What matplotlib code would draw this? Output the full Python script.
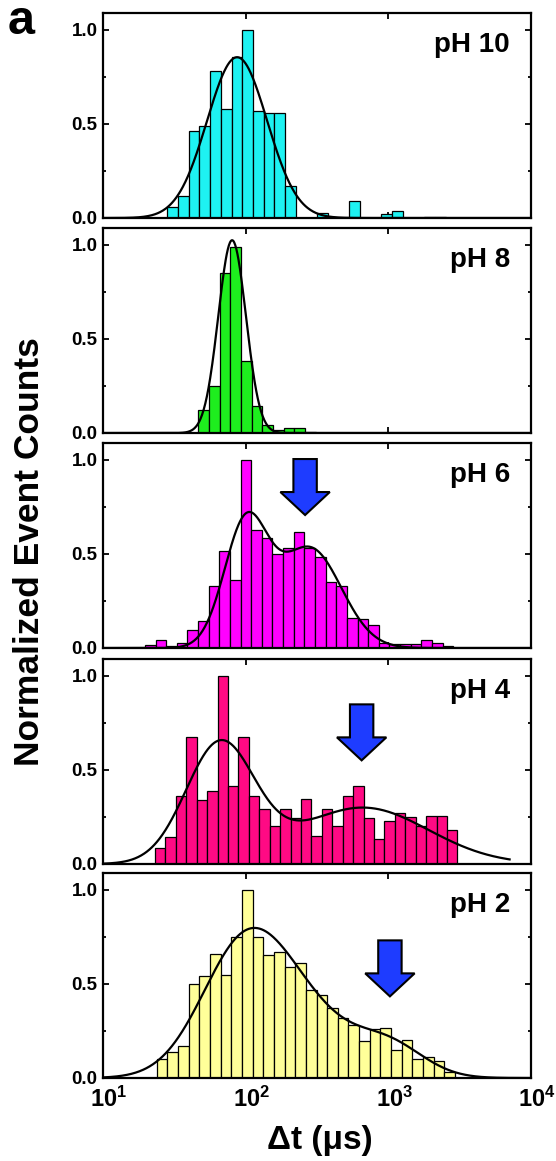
import numpy as np
import matplotlib
matplotlib.use('Agg')
import matplotlib.pyplot as plt
from matplotlib.patches import Polygon
from matplotlib.transforms import ScaledTranslation
from matplotlib.ticker import MultipleLocator, FixedLocator, FixedFormatter, NullLocator

plt.rcParams['font.family'] = ['Liberation Sans', 'DejaVu Sans']
plt.rcParams['font.weight'] = 'bold'
plt.rcParams['mathtext.fontset'] = 'custom'
plt.rcParams['mathtext.rm'] = 'Liberation Sans:bold'
plt.rcParams['mathtext.bf'] = 'Liberation Sans:bold'
plt.rcParams['mathtext.it'] = 'Liberation Sans:bold:italic'

# ---------------- data ----------------
panel_labels = ['pH 10', 'pH 8', 'pH 6', 'pH 4', 'pH 2']
bar_colors = ['#1EF2F2', '#1EEE1E', '#FF00FF', '#FF0A84', '#FFFF99']

# histogram bins: log10 of first left edge, log10 bin width
ph10_bin_start, ph10_bin_width = 1.451, 0.075
ph10_heights = [0.058, 0.115, 0.46, 0.49, 0.78, 0.58, 0.855, 1.0, 0.568, 0.557,
                0.56, 0.17, 0.0, 0.0, 0.027, 0.0, 0.0, 0.09, 0.0, 0.0,
                0.022, 0.035, 0.0, 0.0, 0.005, 0.005]

ph8_bin_start, ph8_bin_width = 1.668, 0.0748
ph8_heights = [0.122, 0.248, 0.85, 0.99, 0.385, 0.143, 0.04, 0.015, 0.025, 0.025, 0.007]

ph6_bin_start, ph6_bin_width = 1.294, 0.0745
ph6_heights = [0.014, 0.044, 0.01, 0.027, 0.094, 0.146, 0.332, 0.515, 0.36, 1.0,
               0.63, 0.583, 0.50, 0.533, 0.616, 0.533, 0.483, 0.35, 0.332, 0.16,
               0.152, 0.12, 0.027, 0.02, 0.02, 0.02, 0.044, 0.027, 0.01]

ph4_bin_start, ph4_bin_width = 1.364, 0.0731
ph4_heights = [0.084, 0.146, 0.363, 0.674, 0.342, 0.39, 1.0, 0.413, 0.674, 0.363,
               0.294, 0.20, 0.294, 0.244, 0.345, 0.151, 0.294, 0.203, 0.363, 0.413,
               0.244, 0.133, 0.226, 0.27, 0.25, 0.20, 0.253, 0.253, 0.18]

ph2_bin_start, ph2_bin_width = 1.376, 0.0747
ph2_heights = [0.10, 0.14, 0.17, 0.50, 0.54, 0.66, 0.55, 0.75, 1.0, 0.75,
               0.655, 0.67, 0.59, 0.61, 0.47, 0.44, 0.37, 0.32, 0.28, 0.195,
               0.26, 0.265, 0.15, 0.20, 0.10, 0.11, 0.09, 0.03]

# Gaussian fit components in log10(dt): amplitude, centre, sigma
ph10_fit_amp, ph10_fit_mu, ph10_fit_sigma = [0.855], [1.94], [0.21]
ph8_fit_amp, ph8_fit_mu, ph8_fit_sigma = [1.025], [1.905], [0.097]
ph6_fit_amp, ph6_fit_mu, ph6_fit_sigma = [0.65, 0.53], [2.0, 2.45], [0.152, 0.22]
ph4_fit_amp, ph4_fit_mu, ph4_fit_sigma = [0.63, 0.30], [1.82, 2.82], [0.24, 0.46]
ph2_fit_amp, ph2_fit_mu, ph2_fit_sigma = [0.65, 0.30, 0.17], [1.98, 2.40, 3.00], [0.30, 0.32, 0.25]
fit_log_range = [(1.0, 4.0), (1.0, 4.0), (1.0, 4.0), (1.0, 3.85), (1.0, 4.0)]

# arrows (tip position in data units); None = no arrow
arrow_tips = [None, None, (261, 0.707), (650, 0.551), (1026, 0.434)]

x_ticks = [10, 100, 1000, 10000]
x_tick_labels = [r'$\mathbf{10^{1}}$', r'$\mathbf{10^{2}}$', r'$\mathbf{10^{3}}$', r'$\mathbf{10^{4}}$']

panels = [
    (ph10_bin_start, ph10_bin_width, ph10_heights, ph10_fit_amp, ph10_fit_mu, ph10_fit_sigma),
    (ph8_bin_start, ph8_bin_width, ph8_heights, ph8_fit_amp, ph8_fit_mu, ph8_fit_sigma),
    (ph6_bin_start, ph6_bin_width, ph6_heights, ph6_fit_amp, ph6_fit_mu, ph6_fit_sigma),
    (ph4_bin_start, ph4_bin_width, ph4_heights, ph4_fit_amp, ph4_fit_mu, ph4_fit_sigma),
    (ph2_bin_start, ph2_bin_width, ph2_heights, ph2_fit_amp, ph2_fit_mu, ph2_fit_sigma),
]

# ---------------- figure ----------------
W, H = 556, 1161
fig = plt.figure(figsize=(W / 100, H / 100), dpi=100)

ax_left_px, ax_right_px = 103, 531
ax_h_px = 205
ax_tops = [13, 228, 443, 659, 873]

for i, (bstart, bwidth, heights, amps, mus, sigs) in enumerate(panels):
    top = ax_tops[i]
    ax = fig.add_axes([ax_left_px / W, 1 - (top + ax_h_px) / H,
                       (ax_right_px - ax_left_px) / W, ax_h_px / H])
    n = len(heights)
    edges = 10 ** (bstart + bwidth * np.arange(n + 1))
    ax.bar(edges[:-1], heights, width=np.diff(edges), align='edge',
           color=bar_colors[i], edgecolor='black', linewidth=0.9, zorder=2)

    lo, hi = fit_log_range[i]
    lx = np.linspace(lo, hi, 800)
    fy = np.zeros_like(lx)
    for a, m, s in zip(amps, mus, sigs):
        fy += a * np.exp(-(lx - m) ** 2 / (2 * s ** 2))
    ax.plot(10 ** lx, fy, color='black', linewidth=1.6, zorder=3)

    ax.set_xscale('log')
    ax.set_xlim(10, 10000)
    ax.set_ylim(0, 1.09)
    ax.xaxis.set_major_locator(FixedLocator(x_ticks))
    ax.xaxis.set_minor_locator(NullLocator())
    if i == len(panels) - 1:
        ax.xaxis.set_major_formatter(FixedFormatter(x_tick_labels))
    else:
        ax.set_xticklabels([])
    ax.yaxis.set_minor_locator(MultipleLocator(0.25))
    ax.set_yticks([0.0, 0.5, 1.0])
    ax.set_yticklabels(['0.0', '0.5', '1.0'])
    ax.tick_params(axis='both', which='both', direction='in', top=True, right=True,
                   width=1.3)
    ax.tick_params(axis='both', which='major', length=4.0)
    ax.tick_params(axis='both', which='minor', length=2.5)
    ax.tick_params(axis='y', labelsize=13.5, pad=4)
    ax.tick_params(axis='x', labelsize=17, pad=6)
    for lab in ax.get_yticklabels():
        lab.set_fontweight('bold')
    if i == len(panels) - 1:
        shift = ScaledTranslation(6 / 100, 0, fig.dpi_scale_trans)
        for lab in ax.get_xticklabels():
            lab.set_transform(lab.get_transform() + shift)
    for sp in ax.spines.values():
        sp.set_linewidth(1.6)

    ax.text(0.951, 0.844, panel_labels[i], transform=ax.transAxes, ha='right',
            va='center', fontsize=20, fontweight='bold')

    tip = arrow_tips[i]
    if tip is not None:
        tx, ty = ax.transData.transform(tip)
        L, hl, hw, sw = 56, 23, 24.7, 11.7
        pts_px = np.array([[0, 0], [hw, hl], [sw, hl], [sw, L], [-sw, L], [-sw, hl], [-hw, hl]])
        pts_px = pts_px + np.array([tx, ty])
        pts_ax = ax.transAxes.inverted().transform(pts_px)
        ax.add_patch(Polygon(pts_ax, closed=True, transform=ax.transAxes,
                             facecolor='#1E3CFF', edgecolor='black', linewidth=1.5,
                             zorder=5))

fig.text(30 / W, 1 - 552 / H, 'Normalized Event Counts', rotation=90,
         ha='center', va='center', fontsize=25.5, fontweight='bold')
fig.text(320 / W, 1 - 1140 / H, 'Δt (μs)', ha='center', va='center',
         fontsize=24, fontweight='bold')
fig.text(21 / W, 1 - 21 / H, 'a', ha='center', va='center', fontsize=35,
         fontweight='bold')

fig.savefig('out.png', dpi=100)
